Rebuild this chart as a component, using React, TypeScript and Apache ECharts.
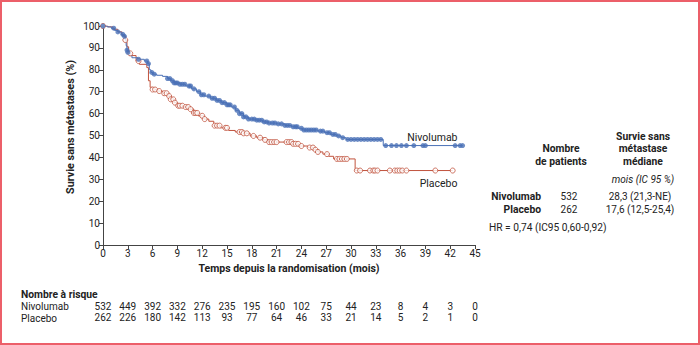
import React, { useEffect, useRef } from "react";
import * as echarts from "echarts";

// ---- Data ----
const xTicks = [0, 3, 6, 9, 12, 15, 18, 21, 24, 27, 30, 33, 36, 39, 42, 45];
const nivoRisk = [532, 449, 392, 332, 276, 235, 195, 160, 102, 75, 44, 23, 8, 4, 3, 0];
const placeboRisk = [262, 226, 180, 142, 113, 93, 77, 64, 46, 33, 21, 14, 5, 2, 1, 0];

// Kaplan-Meier step points (time in months, survival %)
const nivoStepT = [0, 0.5, 1.0, 1.4, 1.8, 2.2, 2.5, 2.7, 2.8, 2.9, 3.0, 3.2, 3.5, 4.2, 5.0, 5.4, 5.6, 5.8, 6.0, 6.5, 7.2, 7.8, 8.2, 8.6, 9.3, 10.0, 10.7, 11.3, 11.8, 12.3, 13.0, 13.7, 14.3, 15.0, 15.5, 16.0, 16.5, 17.0, 17.6, 18.5, 19.3, 20.0, 21.0, 22.0, 22.8, 23.6, 24.1, 26.0, 26.8, 27.5, 28.2, 28.8, 29.4, 33.9];
const nivoStepS = [100, 99.6, 99, 98, 97.3, 96.2, 95.3, 93.6, 91, 89, 88, 86.5, 85.5, 84.8, 84, 82.8, 80, 78.8, 78, 77.5, 77, 76, 75, 74, 73.4, 72.6, 71.3, 70, 68.6, 68, 67, 66, 65, 64, 63, 61.5, 60, 58.5, 57.5, 57, 56.2, 55.7, 55.3, 54.6, 54, 53.3, 52.5, 52, 51.3, 50.5, 49.8, 49, 48.2, 45.4];
const nivoCensorT = [0, 1.3, 1.8, 2.4, 2.6, 2.9, 3.0, 4.3, 5.3, 5.5, 5.9, 6.2, 7.8, 8.1, 8.4, 8.6, 8.8, 9.0, 9.3, 9.6, 9.9, 10.4, 10.6, 11.0, 11.6, 11.9, 12.2, 12.8, 13.2, 13.5, 13.8, 14.1, 14.4, 14.7, 15.0, 15.2, 15.4, 15.9, 16.2, 16.5, 16.8, 17.0, 17.3, 17.6, 18.0, 18.3, 18.6, 18.9, 19.2, 19.5, 19.8, 20.1, 20.5, 20.8, 21.2, 21.6, 22.0, 22.3, 22.6, 23.0, 23.3, 23.5, 24.0, 24.3, 24.6, 24.9, 25.2, 25.5, 25.8, 26.3, 26.6, 27.1, 27.4, 27.8, 28.1, 28.5, 29.0, 29.6, 30.0, 30.4, 30.8, 31.2, 31.6, 32.0, 32.4, 32.8, 33.2, 33.6, 34.2, 34.9, 35.5, 36.1, 36.7, 37.6, 38.7, 39.0, 42.6, 43.2, 43.5];

const placeboStepT = [0, 0.6, 1.2, 1.8, 2.3, 2.7, 2.9, 3.1, 3.4, 4.0, 4.4, 5.3, 5.5, 5.7, 6.0, 6.6, 7.2, 7.8, 8.2, 8.6, 9.0, 9.8, 10.5, 11.0, 11.5, 12.2, 12.8, 13.4, 14.2, 15.2, 16.0, 17.0, 17.8, 18.6, 19.4, 20.0, 23.0, 23.7, 24.8, 25.6, 26.0, 26.6, 27.3, 27.9, 30.5];
const placeboStepS = [100, 99.6, 98.5, 97.3, 95.7, 93.6, 90.5, 87.5, 86.5, 84, 82.5, 81, 75, 72, 71, 70.3, 69.3, 68, 66.5, 65, 63.6, 63, 62, 60.3, 59, 57.5, 56.5, 54.5, 53.5, 52.3, 51.6, 51, 49.8, 49, 48, 47, 46.2, 45.2, 44.5, 43.5, 42.5, 41.5, 40.5, 39.3, 34];
const placeboCensorT = [0, 2.7, 3.3, 4.3, 6.0, 6.3, 6.8, 7.4, 7.7, 8.0, 8.2, 8.5, 8.7, 9.1, 9.3, 9.6, 10.0, 10.3, 10.6, 11.0, 11.2, 11.4, 12.0, 12.3, 13.5, 13.8, 14.1, 14.8, 15.0, 16.5, 16.8, 17.0, 17.4, 18.2, 19.0, 19.6, 20.1, 20.4, 20.7, 21.0, 22.2, 22.5, 22.8, 23.0, 23.3, 23.6, 24.0, 25.0, 25.4, 25.7, 26.0, 27.1, 28.3, 28.6, 28.9, 29.2, 29.5, 30.7, 31.1, 32.3, 32.7, 32.9, 33.2, 34.7, 35.3, 35.6, 35.9, 36.2, 36.7, 40.2, 42.3];

const BLUE = "#4a70b6";
const RED = "#c1533d";
const TEXT = "#222";
const FONT = "Roboto, 'Noto Sans', sans-serif";

function stepAt(ts: number[], ss: number[], t: number) {
  let v = ss[0];
  for (let i = 0; i < ts.length; i++) if (ts[i] <= t) v = ss[i];
  return v;
}
function lineData(ts: number[], ss: number[], censor: number[]) {
  const d = ts.map((t, i) => [t, ss[i]]);
  const last = Math.max(...censor);
  d.push([last, stepAt(ts, ss, last)]);
  return d;
}
function censorData(ts: number[], ss: number[], censor: number[]) {
  return censor.map((t) => [t, stepAt(ts, ss, t)]);
}

function txt(x: number, y: number, text: string, opts: any = {}) {
  return {
    type: "text",
    x,
    y,
    rotation: opts.rotation || 0,
    silent: true,
    style: {
      text,
      fill: TEXT,
      fontFamily: FONT,
      fontSize: opts.size || 10,
      textAlign: opts.align || "left",
      textVerticalAlign: "middle",
      fontWeight: opts.bold ? "bold" : "normal",
      fontStyle: opts.italic ? "italic" : "normal",
    },
  };
}

export default function App() {
  const ref = useRef<HTMLDivElement>(null);
  useEffect(() => {
    if (!ref.current) return;
    const chart = echarts.init(ref.current, undefined, { renderer: "svg" });
    const riskAxis = (offset: number, arr: number[]) => ({
      type: "value",
      position: "bottom",
      offset,
      min: 0,
      max: 45,
      interval: 3,
      axisLine: { show: false },
      axisTick: { show: false },
      splitLine: { show: false },
      axisLabel: {
        margin: 0,
        fontSize: 10,
        fontFamily: FONT,
        color: TEXT,
        showMinLabel: true,
        showMaxLabel: true,
        formatter: (v: number) => String(arr[xTicks.indexOf(v)] ?? ""),
      },
    });
    chart.setOption({
      animation: false,
      backgroundColor: "#fff",
      grid: { left: 103, right: 225, top: 26, bottom: 100 },
      xAxis: [
        {
          type: "value",
          min: 0,
          max: 45,
          interval: 3,
          name: "Temps depuis la randomisation (mois)",
          nameLocation: "middle",
          nameGap: 16.5,
          nameTextStyle: { fontFamily: FONT, fontSize: 10.5, fontWeight: "bold", color: TEXT },
          axisLine: { lineStyle: { color: "#444", width: 1 } },
          axisTick: { length: 4, lineStyle: { color: "#444" } },
          splitLine: { show: false },
          axisLabel: { margin: 3, fontSize: 10, fontFamily: FONT, color: TEXT, showMinLabel: true, showMaxLabel: true },
        },
        riskAxis(56, nivoRisk),
        riskAxis(67.5, placeboRisk),
      ],
      yAxis: {
        type: "value",
        min: 0,
        max: 100,
        interval: 10,
        axisLine: { show: true, lineStyle: { color: "#444", width: 1 } },
        axisTick: { show: true, length: 4, lineStyle: { color: "#444" } },
        splitLine: { show: false },
        axisLabel: { margin: 3, fontSize: 10, fontFamily: FONT, color: TEXT },
      },
      series: [
        {
          type: "line",
          step: "end",
          data: lineData(placeboStepT, placeboStepS, placeboCensorT),
          showSymbol: false,
          lineStyle: { color: RED, width: 1 },
          z: 2,
        },
        {
          type: "line",
          step: "end",
          data: lineData(nivoStepT, nivoStepS, nivoCensorT),
          showSymbol: false,
          lineStyle: { color: BLUE, width: 1 },
          z: 3,
        },
        {
          type: "scatter",
          data: censorData(placeboStepT, placeboStepS, placeboCensorT),
          symbol: "circle",
          symbolSize: 5,
          itemStyle: { color: "#fff", borderColor: RED, borderWidth: 1 },
          z: 4,
        },
        {
          type: "scatter",
          data: censorData(nivoStepT, nivoStepS, nivoCensorT),
          symbol: "circle",
          symbolSize: 5,
          itemStyle: { color: BLUE },
          z: 5,
        },
      ],
      graphic: [
        { type: "rect", shape: { x: 1, y: 1, width: 698, height: 343 }, style: { fill: "none", stroke: "#ec5f69", lineWidth: 2 }, silent: true },
        txt(70, 127, "Survie sans métastases (%)", { align: "center", bold: true, rotation: Math.PI / 2, size: 10.8 }),
        txt(457.5, 137, "Nivolumab", { align: "right", size: 10.5 }),
        txt(457.5, 183, "Placebo", { align: "right", size: 10.5 }),
        txt(643, 136, "Survie sans", { align: "center", bold: true, size: 10.3 }),
        txt(643, 148.5, "métastase", { align: "center", bold: true, size: 10.3 }),
        txt(643, 161, "médiane", { align: "center", bold: true, size: 10.3 }),
        txt(561, 148.5, "Nombre", { align: "center", bold: true, size: 10.3 }),
        txt(561, 161, "de patients", { align: "center", bold: true, size: 10.3 }),
        txt(643, 179.5, "mois (IC 95 %)", { align: "center", italic: true }),
        txt(541, 196, "Nivolumab", { align: "right", bold: true, size: 10.3 }),
        txt(541, 209, "Placebo", { align: "right", bold: true, size: 10.3 }),
        txt(569, 196, "532", { align: "center" }),
        txt(569, 209, "262", { align: "center" }),
        txt(640, 196, "28,3 (21,3-NE)", { align: "center" }),
        txt(640, 209, "17,6 (12,5-25,4)", { align: "center" }),
        txt(489, 227.5, "HR = 0,74 (IC95 0,60-0,92)", { size: 10.2 }),
        txt(21, 294, "Nombre à risque", { bold: true, size: 10.3 }),
        txt(21, 306.7, "Nivolumab"),
        txt(21, 318.3, "Placebo"),
      ],
    });
    return () => chart.dispose();
  }, []);
  return <div ref={ref} style={{ position: "absolute", left: 0, top: 0, width: 700, height: 345 }} />;
}
